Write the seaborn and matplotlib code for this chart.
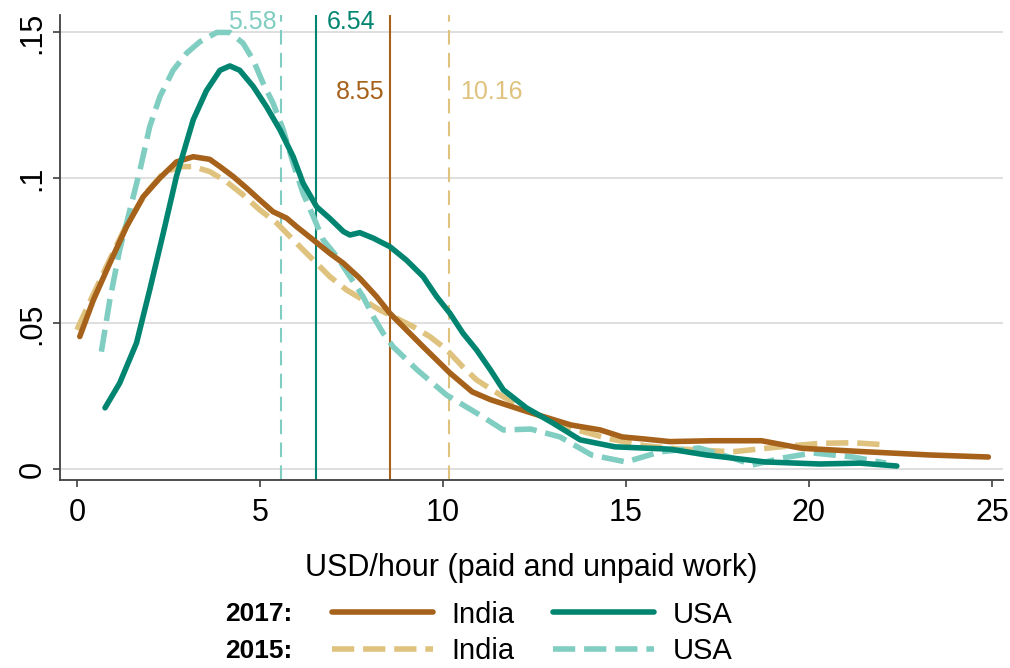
import numpy as np
import pandas as pd
import seaborn as sns
import matplotlib.pyplot as plt

# curvas de densidade (USD/hora)
india17_x = [0.08, 0.45, 0.9, 1.36, 1.81, 2.27, 2.72, 3.18, 3.63, 3.91, 4.27, 4.64, 5.0, 5.36,
             5.73, 6.0, 6.46, 6.91, 7.28, 7.73, 8.19, 8.55, 9.0, 9.46, 10.19, 10.8, 11.3, 12.3,
             13.5, 14.3, 14.9, 15.5, 16.2, 17.4, 18.7, 19.8, 21.4, 23.3, 24.9]
india17_y = [0.0455, 0.058, 0.0707, 0.0833, 0.0935, 0.100, 0.1055, 0.1073, 0.1064, 0.1039,
             0.1005, 0.0965, 0.0924, 0.0884, 0.0862, 0.0833, 0.0787, 0.0741, 0.0707, 0.0655,
             0.0592, 0.0535, 0.0478, 0.042, 0.033, 0.0265, 0.0238, 0.0197, 0.0151, 0.0134, 0.011,
             0.0103, 0.0094, 0.0097, 0.0097, 0.0071, 0.006, 0.0048, 0.0041]

india15_x = [0.0, 0.45, 0.9, 1.36, 1.9, 2.36, 2.81, 3.18, 3.63, 4.09, 4.54, 5.0, 5.46, 6.0, 6.46,
             6.91, 7.37, 7.82, 8.28, 8.73, 9.19, 9.64, 10.0, 10.19, 10.55, 10.92, 11.3, 11.65,
             12.5, 13.5, 14.5, 15.5, 16.5, 17.9, 19.3, 20.3, 21.2, 22.1]
india15_y = [0.0478, 0.060, 0.072, 0.084, 0.095, 0.1016, 0.1039, 0.1039, 0.1022, 0.0987, 0.0942,
             0.089, 0.0845, 0.0776, 0.0718, 0.0661, 0.0615, 0.0581, 0.0546, 0.0518, 0.0489,
             0.0455, 0.042, 0.0398, 0.035, 0.0306, 0.0275, 0.0248, 0.019, 0.014, 0.0105, 0.008,
             0.0068, 0.0059, 0.0077, 0.0088, 0.009, 0.0083]

usa17_x = [0.77, 1.17, 1.63, 1.99, 2.36, 2.72, 3.18, 3.54, 3.91, 4.18, 4.45, 4.82, 5.18, 5.55,
           5.91, 6.18, 6.55, 6.91, 7.28, 7.46, 7.73, 8.1, 8.55, 9.0, 9.46, 9.83, 10.19, 10.55,
           10.92, 11.3, 11.65, 12.28, 13.0, 13.75, 14.7, 16.2, 17.2, 18.8, 20.3, 21.4, 22.4]
usa17_y = [0.021, 0.0295, 0.0433, 0.0615, 0.081, 0.1005, 0.12, 0.130, 0.137, 0.1385, 0.137,
           0.1314, 0.1245, 0.1165, 0.1073, 0.0982, 0.0901, 0.0861, 0.0816, 0.0804, 0.0812,
           0.0793, 0.0764, 0.0718, 0.0661, 0.0592, 0.0535, 0.0466, 0.0409, 0.034, 0.0272, 0.021,
           0.0158, 0.010, 0.0076, 0.0068, 0.0048, 0.0024, 0.0017, 0.002, 0.001]

usa15_x = [0.67, 0.9, 1.17, 1.45, 1.72, 1.99, 2.27, 2.63, 3.0, 3.36, 3.82, 4.18, 4.54, 4.82, 5.09,
           5.36, 5.64, 5.91, 6.18, 6.46, 6.73, 7.1, 7.46, 7.82, 8.1, 8.37, 8.64, 9.3, 10.1, 11.0,
           11.65, 12.4, 13.2, 14.06, 15.0, 15.94, 17.0, 17.9, 18.46, 19.3, 20.1, 21.2, 22.1]
usa15_y = [0.0403, 0.058, 0.0753, 0.089, 0.1025, 0.1176, 0.128, 0.137, 0.1429, 0.1468, 0.150,
           0.150, 0.1463, 0.1405, 0.1325, 0.1257, 0.1165, 0.105, 0.0947, 0.0867, 0.0787, 0.073,
           0.0661, 0.0592, 0.0523, 0.0466, 0.042, 0.034, 0.0254, 0.0186, 0.0134, 0.0137, 0.011,
           0.0048, 0.0024, 0.0059, 0.0072, 0.0038, 0.0014, 0.0038, 0.0055, 0.0041, 0.002]

# medianas
medianas = [5.58, 6.54, 8.55, 10.16]
rotulos_med = ["5.58", "6.54", "8.55", "10.16"]

x_ticks = [0, 5, 10, 15, 20, 25]
y_ticks = [0, 0.05, 0.1, 0.15]
y_ticklabels = ["0", ".05", ".1", ".15"]

# cores (BrBG)
c_ind17 = "#a6611a"
c_ind15 = "#dfc27d"
c_usa17 = "#018571"
c_usa15 = "#80cdc1"

sns.set_style("white")
plt.rcParams["font.family"] = ["Liberation Sans", "DejaVu Sans"]
plt.rcParams["text.color"] = "black"
plt.rcParams["axes.labelcolor"] = "black"

fig = plt.figure(figsize=(10.1, 6.68), dpi=100)
ax = fig.add_axes([60 / 1010, 1 - 480 / 668, 943 / 1010, 465 / 668])

tracejado = (0, (4, 1.6))
lw = 4
sns.lineplot(x=india17_x, y=india17_y, ax=ax, color=c_ind17, lw=lw, label="India", zorder=4)
sns.lineplot(x=india15_x, y=india15_y, ax=ax, color=c_ind15, lw=lw, linestyle=tracejado,
             label="India", zorder=3)
sns.lineplot(x=usa17_x, y=usa17_y, ax=ax, color=c_usa17, lw=lw, label="USA", zorder=4)
sns.lineplot(x=usa15_x, y=usa15_y, ax=ax, color=c_usa15, lw=lw, linestyle=tracejado,
             label="USA", zorder=3)

# linhas verticais das medianas
cores_med = [c_usa15, c_usa17, c_ind17, c_ind15]
estilos_med = [(0, (7, 4)), "-", "-", (0, (7, 4))]
for m, c, s in zip(medianas, cores_med, estilos_med):
    ax.axvline(m, color=c, lw=1.5, linestyle=s, zorder=2)

ax.text(medianas[0] - 0.12, 0.1537, rotulos_med[0], color=c_usa15, fontsize=18,
        ha="right", va="center")
ax.text(medianas[1] + 0.28, 0.1537, rotulos_med[1], color=c_usa17, fontsize=18,
        ha="left", va="center")
ax.text(medianas[2] - 0.14, 0.1296, rotulos_med[2], color=c_ind17, fontsize=18,
        ha="right", va="center")
ax.text(medianas[3] + 0.3, 0.1296, rotulos_med[3], color=c_ind15, fontsize=18,
        ha="left", va="center")

ax.set_xlim(-0.46, 25.3)
ax.set_ylim(-0.0038, 0.156)
ax.set_xticks(x_ticks)
ax.set_yticks(y_ticks)
ax.set_yticklabels(y_ticklabels, rotation=90, va="center")
ax.tick_params(axis="both", labelsize=22, length=5, width=1.2, color="#404040",
               labelcolor="black", direction="out", bottom=True, left=True)
ax.tick_params(axis="x", pad=8)
ax.tick_params(axis="y", pad=4)
ax.yaxis.grid(True, color="#dcdcdc", lw=1.3)
ax.set_axisbelow(True)
sns.despine(ax=ax)
for lado in ["left", "bottom"]:
    ax.spines[lado].set_color("#404040")
    ax.spines[lado].set_linewidth(1.3)

ax.set_xlabel("USD/hour (paid and unpaid work)", fontsize=22, labelpad=18)
ax.set_ylabel("")

h, l = ax.get_legend_handles_labels()
ax.get_legend().remove()
fig.legend(h, l, ncol=2, loc="center left", bbox_to_anchor=(332 / 1010, 1 - 633 / 668),
           frameon=False, fontsize=21, handlelength=3.46, handletextpad=0.65,
           columnspacing=1.3, labelspacing=0.3, borderpad=0, borderaxespad=0)
fig.text(225 / 1010, 1 - 614 / 668, "2017:", fontsize=19, fontweight="bold", va="center")
fig.text(225 / 1010, 1 - 651 / 668, "2015:", fontsize=19, fontweight="bold", va="center")

fig.savefig("out.png", dpi=100)
